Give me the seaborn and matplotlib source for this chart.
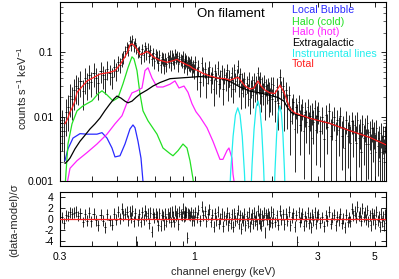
import numpy as np
import pandas as pd
import matplotlib
matplotlib.use("Agg")
import matplotlib.pyplot as plt
import seaborn as sns
from matplotlib.ticker import FixedLocator, FixedFormatter, NullFormatter, NullLocator, LogLocator

# ---------------- model components (counts s^-1 keV^-1) ----------------
total_energy = [0.3145, 0.3230, 0.3289, 0.3348, 0.3439, 0.3502, 0.3597, 0.3828, 0.3932, 0.4298,
                0.4699, 0.4914, 0.5139, 0.5373, 0.5519, 0.5618, 0.5719, 0.5822, 0.5980, 0.6143,
                0.6310, 0.6539, 0.6716, 0.6899, 0.7343, 0.7818, 0.8247, 0.8547, 0.8858, 0.9179,
                0.9598, 0.9858, 1.031, 1.078, 1.147, 1.221, 1.311, 1.371, 1.421, 1.473,
                1.513, 1.568, 1.639, 1.699, 1.761, 1.809, 1.875, 1.960, 2.049, 2.143,
                2.221, 2.281, 2.343, 2.449, 2.802, 3.349, 4.003, 4.783, 5.52]
total_flux = [0.0078, 0.0096, 0.0120, 0.0135, 0.0177, 0.0240, 0.0270, 0.0360, 0.0380, 0.0460,
              0.0490, 0.0520, 0.0640, 0.0850, 0.1050, 0.1300, 0.1350, 0.1280, 0.1120, 0.0920,
              0.0950, 0.1030, 0.0960, 0.0850, 0.0750, 0.0700, 0.0740, 0.0780, 0.0710, 0.0660,
              0.0610, 0.0560, 0.0520, 0.0470, 0.0430, 0.0400, 0.0390, 0.0370, 0.0390, 0.0410,
              0.0360, 0.0300, 0.0270, 0.0280, 0.0360, 0.0300, 0.0260, 0.0235, 0.0230, 0.0310,
              0.0240, 0.0180, 0.0135, 0.0115, 0.0095, 0.0079, 0.0061, 0.0048, 0.0037]

extragal_energy = [0.3145, 0.3230, 0.3289, 0.3439, 0.3597, 0.3760, 0.3932, 0.4111, 0.4298, 0.4494,
                   0.4699, 0.4870, 0.5003, 0.5185, 0.5373, 0.5519, 0.5719, 0.5928, 0.6143, 0.6539,
                   0.6899, 0.7343, 0.8028, 0.8779, 0.9598, 1.049, 1.178, 1.311, 1.396, 1.500,
                   1.639, 1.792, 1.960, 2.105, 2.221, 2.301, 2.385, 2.494, 2.802, 3.349,
                   4.003, 4.783, 5.52]
extragal_flux = [0.0019, 0.0021, 0.0023, 0.0032, 0.0042, 0.0052, 0.0065, 0.0078, 0.0096, 0.0125,
                 0.0159, 0.0190, 0.0210, 0.0195, 0.0175, 0.0165, 0.0175, 0.0200, 0.0225, 0.0260,
                 0.0300, 0.0340, 0.0390, 0.0400, 0.0410, 0.0420, 0.0410, 0.0380, 0.0340, 0.0290,
                 0.0250, 0.0235, 0.0215, 0.0200, 0.0175, 0.0135, 0.0115, 0.0108, 0.0095, 0.0079,
                 0.0061, 0.0048, 0.0037]

bubble_energy = [0.3145, 0.3230, 0.3379, 0.3597, 0.3828, 0.4184, 0.4376, 0.4575, 0.4784, 0.4914,
                 0.5139, 0.5373, 0.5618, 0.5770, 0.5875, 0.6034, 0.6198, 0.6310, 0.6424]
bubble_flux = [0.0021, 0.0032, 0.0047, 0.0055, 0.0054, 0.0054, 0.0057, 0.0047, 0.0033, 0.0024,
               0.0025, 0.0038, 0.0065, 0.0075, 0.0068, 0.0042, 0.0023, 0.0010, 0.0005]

cold_energy = [0.3145, 0.3230, 0.3348, 0.3502, 0.3694, 0.4003, 0.4222, 0.4376, 0.4575, 0.4827,
               0.5048, 0.5278, 0.5519, 0.5719, 0.5822, 0.5980, 0.6143, 0.6310, 0.6598, 0.7152,
               0.7543, 0.8028, 0.8247, 0.8624, 0.9016, 0.9344, 0.9598, 0.9858, 1.0125]
cold_flux = [0.0008, 0.0038, 0.0078, 0.0124, 0.0148, 0.0177, 0.0227, 0.0253, 0.0219, 0.0177,
             0.0197, 0.0325, 0.0575, 0.0850, 0.0790, 0.0520, 0.0227, 0.0124, 0.0087, 0.0054,
             0.0033, 0.0027, 0.0025, 0.0030, 0.0038, 0.0033, 0.0021, 0.0011, 0.0005]

hot_energy = [0.3201, 0.3289, 0.3502, 0.3828, 0.4184, 0.4575, 0.4914, 0.5231, 0.5470, 0.5719,
              0.5980, 0.6253, 0.6424, 0.6598, 0.6837, 0.7152, 0.7543, 0.8028, 0.8396, 0.8700,
              0.9098, 0.9428, 0.9770, 1.0125, 1.049, 1.117, 1.178, 1.254, 1.288, 1.335,
              1.359, 1.396, 1.409, 1.434]
hot_flux = [0.0009, 0.0016, 0.0021, 0.0028, 0.0038, 0.0054, 0.0078, 0.0104, 0.0165, 0.0235,
            0.0253, 0.0280, 0.0520, 0.0575, 0.0400, 0.0290, 0.0290, 0.0320, 0.0360, 0.0280,
            0.0300, 0.0240, 0.0160, 0.0120, 0.0100, 0.0068, 0.0042, 0.0022, 0.0022, 0.0030,
            0.0033, 0.0023, 0.0013, 0.0008]

instr_energy = [1.35, 1.38, 1.41, 1.44, 1.47, 1.50, 1.53, 1.56, 1.59,
                1.64, 1.67, 1.70, 1.73, 1.76, 1.79, 1.82, 1.85, 1.88,
                2.02, 2.05, 2.08, 2.11, 2.14, 2.17, 2.20, 2.23, 2.26]
instr_flux = [0.00023, 0.0014, 0.0050, 0.0107, 0.0138, 0.0107, 0.0050, 0.0014, 0.00023,
              0.0003, 0.0018, 0.0064, 0.0137, 0.0177, 0.0137, 0.0064, 0.0018, 0.0003,
              0.00025, 0.0015, 0.0053, 0.0115, 0.0148, 0.0115, 0.0053, 0.0015, 0.00025]

# ---------------- observed spectrum ----------------
energy_low = [0.305, 0.312, 0.318, 0.324, 0.330, 0.336, 0.342, 0.348, 0.354, 0.361,
              0.368, 0.375, 0.382, 0.390, 0.398, 0.406, 0.414, 0.423, 0.432, 0.441,
              0.450, 0.459, 0.468, 0.477, 0.486, 0.495, 0.504, 0.513, 0.522, 0.530,
              0.538, 0.546, 0.553, 0.560, 0.567, 0.574, 0.581, 0.588, 0.595, 0.602]
counts_low = [0.0080, 0.0060, 0.0120, 0.0140, 0.0210, 0.0190, 0.0260, 0.0300, 0.0280, 0.0360,
              0.0250, 0.0400, 0.0330, 0.0450, 0.0350, 0.0480, 0.0400, 0.0330, 0.0520, 0.0440,
              0.0390, 0.0550, 0.0470, 0.0420, 0.0600, 0.0520, 0.0700, 0.0640, 0.0780, 0.0850,
              0.1050, 0.1200, 0.1100, 0.1500, 0.1300, 0.1600, 0.1250, 0.1400, 0.1150, 0.1000]
error_low = [0.005, 0.004, 0.007, 0.008, 0.011, 0.010, 0.013, 0.014, 0.013, 0.016,
             0.012, 0.017, 0.015, 0.018, 0.015, 0.019, 0.017, 0.015, 0.019, 0.017,
             0.016, 0.018, 0.016, 0.015, 0.018, 0.016, 0.019, 0.017, 0.019, 0.020,
             0.022, 0.024, 0.022, 0.026, 0.024, 0.027, 0.023, 0.024, 0.021, 0.019]
resid_low = [0.3, -0.8, 0.6, 0.5, 1.2, 0.9, 1.1, 1.3, 0.5, 1.0,
             -0.6, 0.8, -0.4, 1.1, -0.5, 0.9, -0.3, -1.2, 0.7, -0.4,
             -1.6, 0.8, -0.3, -1.1, 0.9, -0.2, 1.3, 0.1, 1.8, 0.6,
             0.9, 1.3, -0.3, 1.4, 0.2, 1.5, -0.5, 1.0, -4.2, -0.3]

energy_mid = [0.610, 0.618, 0.626, 0.634, 0.642, 0.650, 0.658, 0.666, 0.674, 0.682,
              0.690, 0.698, 0.706, 0.714, 0.722, 0.730, 0.738, 0.746, 0.754, 0.762,
              0.770, 0.778, 0.786, 0.794, 0.802, 0.810, 0.818, 0.826, 0.834, 0.842,
              0.850, 0.858, 0.866, 0.874, 0.882, 0.890, 0.898, 0.906, 0.914, 0.922,
              0.930, 0.938, 0.946, 0.954, 0.962, 0.970, 0.978, 0.986, 0.994]
counts_mid = [0.105, 0.083, 0.112, 0.090, 0.124, 0.098, 0.118, 0.087, 0.110, 0.079,
              0.098, 0.072, 0.094, 0.085, 0.068, 0.090, 0.064, 0.083, 0.079, 0.062,
              0.081, 0.066, 0.084, 0.075, 0.089, 0.068, 0.091, 0.080, 0.071, 0.095,
              0.082, 0.088, 0.066, 0.085, 0.078, 0.074, 0.087, 0.061, 0.080, 0.072,
              0.076, 0.058, 0.073, 0.068, 0.064, 0.070, 0.055, 0.062, 0.052]
error_mid = [0.020, 0.018, 0.021, 0.019, 0.022, 0.021, 0.022, 0.020, 0.021, 0.018,
             0.020, 0.017, 0.018, 0.018, 0.017, 0.018, 0.016, 0.017, 0.017, 0.016,
             0.017, 0.016, 0.017, 0.017, 0.018, 0.016, 0.018, 0.017, 0.016, 0.018,
             0.017, 0.018, 0.016, 0.017, 0.017, 0.016, 0.017, 0.014, 0.017, 0.016,
             0.016, 0.014, 0.016, 0.016, 0.014, 0.016, 0.014, 0.014, 0.013]
resid_mid = [0.8, -0.6, 1.2, -0.2, 1.5, 0.5, 1.0, -0.8, 1.1, -2.4,
             0.9, 0.3, 0.9, 0.4, -1.2, 1.0, -1.3, 0.7, 0.5, -1.1,
             0.9, -0.5, 0.9, 0.2, 1.2, -0.6, 1.3, 0.4, -0.6, 1.5,
             0.5, 1.0, -1.0, 1.3, 0.8, 0.5, 1.8, 0.4, 1.4, 0.6,
             1.2, -3.5, 1.0, 0.7, 0.5, 1.2, -0.3, 0.8, -0.4]

energy_c1 = [1.005, 1.020, 1.035, 1.050, 1.065, 1.080, 1.095, 1.110, 1.125, 1.140,
             1.155, 1.170, 1.185, 1.200, 1.215, 1.230, 1.245, 1.260, 1.275, 1.290,
             1.305, 1.320, 1.335, 1.350, 1.365, 1.380, 1.395, 1.410, 1.425, 1.440,
             1.455, 1.470, 1.485, 1.500, 1.515, 1.530, 1.545, 1.560, 1.575, 1.590,
             1.605, 1.620, 1.635, 1.650, 1.665, 1.680, 1.695, 1.710, 1.725, 1.740,
             1.755, 1.770, 1.785, 1.800, 1.815, 1.830, 1.845, 1.860, 1.875, 1.890,
             1.905, 1.920, 1.935, 1.950, 1.965, 1.980, 1.995]
counts_c1 = [0.0702, 0.0424, 0.0598, 0.0350, 0.0672, 0.0447, 0.0552, 0.0338, 0.0462, 0.0581,
             0.0366, 0.0462, 0.0267, 0.0513, 0.0360, 0.0580, 0.0320, 0.0400, 0.0507, 0.0273,
             0.0449, 0.0371, 0.0532, 0.0285, 0.0407, 0.0315, 0.0475, 0.0273, 0.0527, 0.0360,
             0.0431, 0.0615, 0.0320, 0.0456, 0.0234, 0.0374, 0.0304, 0.0390, 0.0225, 0.0334,
             0.0238, 0.0392, 0.0189, 0.0284, 0.0338, 0.0216, 0.0378, 0.0261, 0.0330, 0.0240,
             0.0479, 0.0330, 0.0256, 0.0388, 0.0210, 0.0322, 0.0243, 0.0351, 0.0169, 0.0300,
             0.0238, 0.0312, 0.0180, 0.0264, 0.0200, 0.0326, 0.0186]
error_c1 = [0.017, 0.016, 0.017, 0.015, 0.016, 0.015, 0.015, 0.014, 0.014, 0.015,
            0.013, 0.014, 0.012, 0.014, 0.013, 0.014, 0.012, 0.013, 0.013, 0.012,
            0.013, 0.012, 0.013, 0.011, 0.012, 0.011, 0.012, 0.011, 0.013, 0.012,
            0.012, 0.014, 0.012, 0.012, 0.010, 0.011, 0.010, 0.011, 0.009, 0.010,
            0.009, 0.010, 0.008, 0.009, 0.009, 0.008, 0.010, 0.009, 0.010, 0.009,
            0.011, 0.010, 0.010, 0.010, 0.009, 0.009, 0.009, 0.009, 0.008, 0.009,
            0.008, 0.009, 0.008, 0.008, 0.008, 0.009, 0.008]
resid_c1 = [1.2, 0.3, 1.6, -0.4, 2.2, 0.6, 1.4, -0.5, 0.8, 1.7,
            -0.6, 0.7, -1.5, 1.0, -0.3, 1.3, -0.9, 0.1, 0.9, -1.4,
            0.5, -0.2, 1.1, -1.2, 0.3, -0.8, 0.8, -1.5, 1.0, -0.4,
            0.2, 1.6, -0.9, 0.6, -1.8, 0.3, -0.3, 0.9, -1.2, 0.5,
            -0.7, 1.2, -1.4, 0.1, 0.8, -0.9, 1.1, -0.4, 0.4, -1.0,
            1.5, 0.0, -0.8, 0.9, -1.3, 0.6, -0.3, 1.1, -2.6, 0.7,
            -0.1, 1.0, -1.0, 0.4, -0.6, 1.3, -0.7]

energy_c2 = [2.02, 2.05, 2.08, 2.11, 2.14, 2.17, 2.20, 2.23, 2.26, 2.29,
             2.32, 2.35, 2.38, 2.41, 2.44, 2.47, 2.50, 2.53, 2.56, 2.59,
             2.62, 2.65, 2.68, 2.71, 2.74, 2.77, 2.80, 2.83, 2.86, 2.89,
             2.92, 2.95, 2.98]
counts_c2 = [0.0313, 0.0174, 0.0288, 0.0162, 0.0421, 0.0243, 0.0300, 0.0161, 0.0260, 0.0145,
             0.0218, 0.0086, 0.0138, 0.0168, 0.0064, 0.0143, 0.0106, 0.0171, 0.0076, 0.0111,
             0.0140, 0.0061, 0.0120, 0.0084, 0.0141, 0.0072, 0.0105, 0.0047, 0.0121, 0.0083,
             0.0137, 0.0063, 0.0102]
error_c2 = [0.010, 0.009, 0.011, 0.010, 0.013, 0.011, 0.011, 0.010, 0.009, 0.008,
            0.008, 0.006, 0.006, 0.006, 0.005, 0.005, 0.005, 0.005, 0.005, 0.005,
            0.005, 0.005, 0.005, 0.0045, 0.0045, 0.0045, 0.0045, 0.0045, 0.0045, 0.0045,
            0.0045, 0.0045, 0.0045]
resid_c2 = [0.9, -0.6, 0.6, -1.1, 1.5, -0.2, 0.8, -1.0, 0.9, -0.4,
            1.3, -1.2, 0.3, 1.0, -1.5, 0.6, -4.2, 1.2, -0.6, 0.2,
            0.9, -1.3, 0.5, -0.5, 1.1, -0.8, 0.3, -1.6, 0.8, -0.3,
            1.2, -0.9, 0.4]

energy_c3 = [3.02, 3.07, 3.12, 3.17, 3.22, 3.27, 3.32, 3.37, 3.42, 3.47,
             3.52, 3.57, 3.62, 3.67, 3.72, 3.77, 3.82, 3.87, 3.92, 3.97,
             4.02, 4.07, 4.12, 4.17, 4.22, 4.27, 4.32, 4.37, 4.42, 4.47,
             4.52, 4.57, 4.62, 4.67, 4.72, 4.77, 4.82, 4.87, 4.92, 4.97,
             5.02, 5.07, 5.12, 5.17, 5.22, 5.27, 5.32, 5.37, 5.42, 5.47, 5.52]
counts_c3 = [0.0123, 0.0061, 0.0098, 0.0046, 0.0108, 0.0069, 0.0124, 0.0051, 0.0084, 0.0101,
             0.0044, 0.0090, 0.0063, 0.0104, 0.0051, 0.0069, 0.0033, 0.0090, 0.0050, 0.0074,
             0.0040, 0.0087, 0.0056, 0.0075, 0.0040, 0.0090, 0.0047, 0.0062, 0.0029, 0.0078,
             0.0047, 0.0069, 0.0038, 0.0081, 0.0038, 0.0058, 0.0028, 0.0067, 0.0045, 0.0057,
             0.0029, 0.0067, 0.0036, 0.0047, 0.0021, 0.0056, 0.0029, 0.0049, 0.0023, 0.0050,
             0.0033]
error_c3 = [0.0045, 0.0044, 0.0044, 0.0043, 0.0043, 0.0042, 0.0042, 0.0041, 0.0040, 0.0040,
            0.0039, 0.0038, 0.0038, 0.0037, 0.0036, 0.0036, 0.0035, 0.0035, 0.0034, 0.0034,
            0.0033, 0.0033, 0.0032, 0.0032, 0.0031, 0.0031, 0.0030, 0.0030, 0.0029, 0.0029,
            0.0029, 0.0028, 0.0028, 0.0027, 0.0027, 0.0027, 0.0026, 0.0026, 0.0025, 0.0025,
            0.0025, 0.0024, 0.0024, 0.0024, 0.0023, 0.0023, 0.0023, 0.0022, 0.0022, 0.0022,
            0.0021]
resid_c3 = [0.8, -0.7, 0.3, -1.4, 0.6, -0.4, 1.3, -0.9, 0.2, 0.7,
            -1.2, 0.4, -0.3, 0.9, -0.8, 0.0, -1.6, 0.7, -0.6, 0.3,
            -0.5, 1.8, 0.6, 1.4, 0.2, 2.2, 0.5, 1.1, -0.4, 1.9,
            0.4, 1.2, -0.2, 1.6, -0.5, 0.6, -1.2, 1.0, -0.1, 0.7,
            -0.9, 1.3, -0.3, 0.4, -1.5, 0.9, -0.6, 0.5, -1.3, 0.8,
            -0.8]

x_ticks = [0.3, 0.4, 0.5, 0.6, 0.7, 0.8, 0.9, 1, 2, 3, 4, 5]
x_tick_labels = ["0.3", "", "", "", "", "", "", "1", "", "3", "", "5"]
y_ticks = [0.001, 0.01, 0.1]
y_tick_labels = ["0.001", "0.01", "0.1"]
r_ticks = [-4, -2, 0, 2, 4]
r_tick_labels = ["-4", "-2", "0", "2", "4"]

legend_labels = ["Local Bubble", "Halo (cold)", "Halo (hot)", "Extragalactic",
                 "Instrumental lines", "Total"]

# ---------------- style ----------------
sns.set_style("ticks")
plt.rcParams["font.family"] = ["Liberation Sans", "DejaVu Sans"]
plt.rcParams["mathtext.fontset"] = "custom"
plt.rcParams["mathtext.rm"] = "Liberation Sans"
plt.rcParams["mathtext.it"] = "Liberation Sans:italic"
plt.rcParams["axes.linewidth"] = 0.8

C_BLUE = "#2a2aff"
C_GREEN = "#22e022"
C_MAG = "#ff22ff"
C_CYAN = "#22eeee"
C_RED = "#ff2020"
C_BLACK = "#000000"

fig = plt.figure(figsize=(3.99, 2.79), dpi=100)
ax = fig.add_axes([0.1496, 0.3495, 0.8178, 0.6434])
ax2 = fig.add_axes([0.1496, 0.1183, 0.8178, 0.1935])

for a in (ax, ax2):
    a.set_xscale("log")
ax.set_yscale("log")

# ---------------- data ----------------
E = np.array(energy_low + energy_mid + energy_c1 + energy_c2 + energy_c3)
D = np.array(counts_low + counts_mid + counts_c1 + counts_c2 + counts_c3)
S = np.array(error_low + error_mid + error_c1 + error_c2 + error_c3)
R = np.array(resid_low + resid_mid + resid_c1 + resid_c2 + resid_c3)
half_bin = np.gradient(E) / 2.0

ax.errorbar(E, D, yerr=S, xerr=half_bin, fmt="none", ecolor=C_BLACK,
            elinewidth=0.7, capsize=0, alpha=0.85, zorder=2)
ax2.errorbar(E, R, yerr=np.ones_like(R), xerr=half_bin, fmt="none", ecolor=C_BLACK,
             elinewidth=0.7, capsize=0, alpha=0.85, zorder=2)

# ---------------- model curves ----------------
components = [
    (bubble_energy, bubble_flux, C_BLUE),
    (cold_energy, cold_flux, C_GREEN),
    (hot_energy, hot_flux, C_MAG),
    (instr_energy, instr_flux, C_CYAN),
    (extragal_energy, extragal_flux, C_BLACK),
    (total_energy, total_flux, C_RED),
]
for en, fl, col in components:
    df = pd.DataFrame({"energy": en, "flux": fl})
    sns.lineplot(data=df, x="energy", y="flux", ax=ax, color=col, lw=0.9,
                 estimator=None, sort=False, legend=False, zorder=3)

ax2.axhline(0, color=C_RED, lw=0.9, zorder=3)

# ---------------- axes ----------------
for a in (ax, ax2):
    a.set_xlim(0.3, 5.52)
    a.xaxis.set_major_locator(FixedLocator(x_ticks))
    a.xaxis.set_minor_locator(NullLocator())
    a.xaxis.set_minor_formatter(NullFormatter())
    a.tick_params(which="major", direction="in", top=True, right=True,
                  length=3.5, width=0.6, labelsize=7.5, pad=4.5, colors="black")
    a.tick_params(which="minor", direction="in", top=True, right=True,
                  length=2.0, width=0.5)
    for sp in a.spines.values():
        sp.set_color("black")
        sp.set_linewidth(0.8)
    a.set_xlabel("")
    a.set_ylabel("")

ax.xaxis.set_major_formatter(NullFormatter())
ax2.xaxis.set_major_formatter(FixedFormatter(x_tick_labels))

ax.set_ylim(0.001, 0.6)
ax.yaxis.set_major_locator(FixedLocator(y_ticks))
ax.yaxis.set_major_formatter(FixedFormatter(y_tick_labels))
ax.yaxis.set_minor_locator(LogLocator(base=10, subs=(2, 3, 4, 5, 6, 7, 8, 9)))
ax.yaxis.set_minor_formatter(NullFormatter())

ax2.set_ylim(-5, 4.9)
ax2.yaxis.set_major_locator(FixedLocator(r_ticks))
ax2.yaxis.set_major_formatter(FixedFormatter(r_tick_labels))

ax.set_ylabel(r"counts s$^{-1}$ keV$^{-1}$", fontsize=8)
ax.yaxis.set_label_coords(-0.094, 0.52)
ax2.set_ylabel("(data-model)/σ", fontsize=8)
ax2.yaxis.set_label_coords(-0.125, 0.47)
ax2.set_xlabel("channel energy (keV)", fontsize=7.8)
ax2.xaxis.set_label_coords(0.5, -0.38)

ax.text(0.421, 0.933, "On filament", transform=ax.transAxes, fontsize=9.5,
        ha="left", va="center", color="black")
legend_colors = [C_BLUE, C_GREEN, C_MAG, C_BLACK, C_CYAN, C_RED]
legend_y = [0.958, 0.891, 0.830, 0.770, 0.709, 0.652]
for lab, col, yy in zip(legend_labels, legend_colors, legend_y):
    ax.text(0.712, yy, lab, transform=ax.transAxes, fontsize=7.7,
            ha="left", va="center", color=col)

fig.savefig("out.png", dpi=100)
